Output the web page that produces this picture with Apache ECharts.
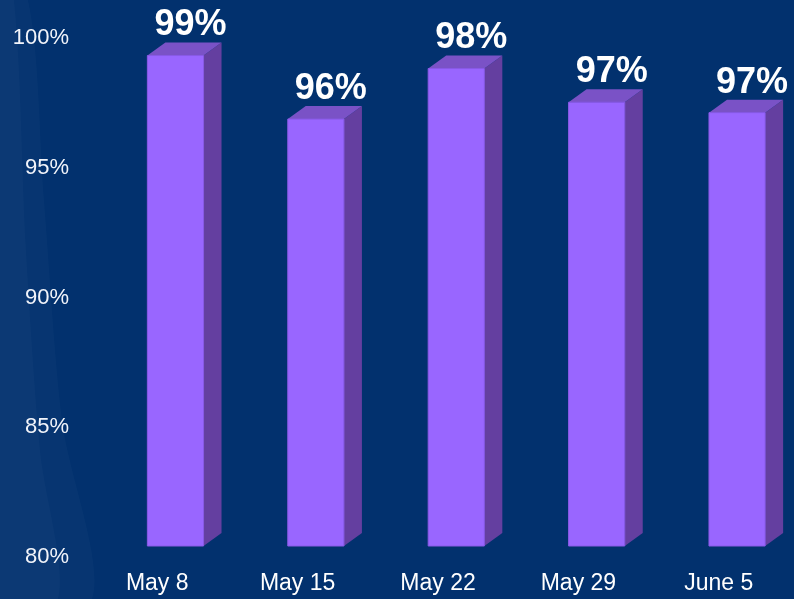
<!DOCTYPE html>
<html>
<head>
<meta charset="utf-8">
<title>weekly rate</title>
<script src="https://cdn.jsdelivr.net/npm/echarts@6/dist/echarts.min.js"></script>
<style>
  html, body { margin: 0; padding: 0; background: #02316e; }
  #main { width: 794px; height: 599px; }
</style>
</head>
<body>
<div id="main"></div>
<script type="text/javascript">
// categories (weeks)
var categories = ['May 8', 'May 15', 'May 22', 'May 29', 'June 5'];
// percent values
var values = [98.9, 96.45, 98.4, 97.1, 96.7];
// value axis range
var yMin = 80;
var yMax = 100;
var yStep = 5;

var dx = 18, dy = 13; // depth of the fake 3d box

function renderBar(params, api) {
  var idx = api.value(0);
  var val = api.value(1);
  var top = api.coord([idx, val]);
  var base = api.coord([idx, yMin]);
  var band = api.size([1, 0])[0];
  var w = band * 0.4;
  var x0 = top[0] - band * 0.07;
  var x1 = x0 + w;
  var y0 = top[1];
  var y1 = base[1];
  return {
    type: 'group',
    children: [
      {
        type: 'polygon',
        shape: { points: [[x1, y0], [x1 + dx, y0 - dy], [x1 + dx, y1 - dy], [x1, y1]] },
        style: { fill: '#643fa0' }
      },
      {
        type: 'polygon',
        shape: { points: [[x0, y0], [x0 + dx, y0 - dy], [x1 + dx, y0 - dy], [x1, y0]] },
        style: { fill: '#7a52c6' }
      },
      {
        type: 'rect',
        shape: { x: x0, y: y0, width: w, height: y1 - y0 },
        style: { fill: '#9966ff', stroke: '#8a5ae6', lineWidth: 1 }
      },
      {
        type: 'text',
        style: {
          text: Math.round(val) + '%',
          x: x0 + w / 2 + 15,
          y: y0 - dy + 1,
          align: 'center',
          verticalAlign: 'bottom',
          fill: '#ffffff',
          font: 'bold 36px "Liberation Sans", Arial, sans-serif'
        }
      }
    ]
  };
}

var chart = echarts.init(document.getElementById('main'));
chart.setOption({
  backgroundColor: '#02316e',
  animation: false,
  textStyle: { fontFamily: '"Liberation Sans", Arial, sans-serif' },
  graphic: [
    {
      type: 'polygon',
      silent: true,
      shape: {
        points: [[0, 0], [28, 0], [44, 200], [62, 420], [92, 599], [0, 599]],
        smooth: 0.3
      },
      style: { fill: 'rgba(255,255,255,0.025)' }
    },
    {
      type: 'polygon',
      silent: true,
      shape: {
        points: [[0, 0], [14, 0], [26, 250], [40, 450], [58, 599], [0, 599]],
        smooth: 0.3
      },
      style: { fill: 'rgba(255,255,255,0.025)' }
    }
  ],
  grid: { left: 87, right: 5, top: 27, bottom: 53 },
  xAxis: {
    type: 'category',
    data: categories,
    axisLine: { show: false },
    axisTick: { show: false },
    axisLabel: { color: '#ffffff', fontSize: 23, margin: 26 }
  },
  yAxis: {
    type: 'value',
    min: yMin,
    max: yMax,
    interval: yStep,
    axisLine: { show: false },
    axisTick: { show: false },
    splitLine: { show: false },
    axisLabel: {
      color: '#f2f4fa',
      fontSize: 22,
      margin: 18,
      verticalAlign: 'top',
      formatter: '{value}%'
    }
  },
  series: [{
    type: 'custom',
    renderItem: renderBar,
    clip: false,
    data: values.map(function (v, i) { return [i, v]; })
  }]
});
</script>
</body>
</html>
